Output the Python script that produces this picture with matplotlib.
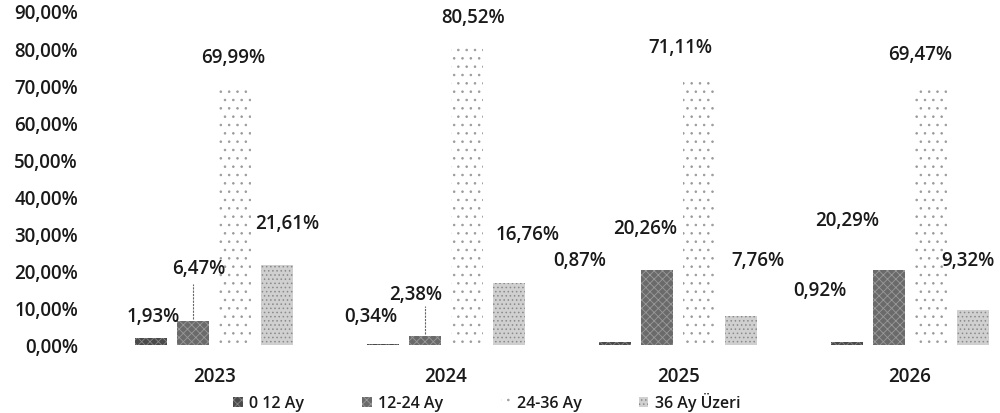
import matplotlib
matplotlib.use("Agg")
import matplotlib.pyplot as plt
import numpy as np

years = ["2023", "2024", "2025", "2026"]
series_names = ["0 12 Ay", "12-24 Ay", "24-36 Ay", "36 Ay Üzeri"]
s1 = [1.93, 0.34, 0.87, 0.92]
s2 = [6.47, 2.38, 20.26, 20.29]
s3 = [69.99, 80.52, 71.11, 69.47]
s4 = [21.61, 16.76, 7.76, 9.32]
yticks = [0, 10, 20, 30, 40, 50, 60, 70, 80, 90]

# label placement (dx relative to group centre, y in axis units)
lab_dx = [[-0.261, -0.065, 0.081, 0.315],
          [-0.322, -0.129, 0.116, 0.353],
          [-0.422, -0.142, 0.009, 0.345],
          [-0.388, -0.272, 0.043, 0.250]]
lab_y = [[7.8, 20.7, 77.7, 32.8],
         [7.8, 13.7, 88.4, 29.8],
         [22.8, 31.5, 80.4, 22.8],
         [14.8, 33.6, 78.5, 22.8]]

plt.rcParams['font.family'] = ['Open Sans', 'DejaVu Sans']
plt.rcParams['font.weight'] = 'semibold'
plt.rcParams['hatch.linewidth'] = 0.6

FS = 13.5
fig = plt.figure(figsize=(10, 4.14), dpi=100)
ax = fig.add_axes([0.098, 1 - 346/414, 0.928, (346 - 12)/414])

x = np.arange(len(years))
w = 0.138
off = 0.181
data = [s1, s2, s3, s4]
styles = [
    dict(color="#4a4a4a", hatch="xxxx", edgecolor="#888888"),
    dict(color="#6a6a6a", hatch="xxxx", edgecolor="#9a9a9a"),
    dict(color="#ffffff", hatch="..", edgecolor="#9a9a9a"),
    dict(color="#d0d0d0", hatch="....", edgecolor="#8a8a8a"),
]
handles = []
for i, (vals, st) in enumerate(zip(data, styles)):
    b = ax.bar(x + (i - 1.5) * off, vals, w, label=series_names[i],
               color=st["color"], hatch=st["hatch"], edgecolor=st["edgecolor"],
               linewidth=0)
    handles.append(b)

labels_fmt = lambda v: f"{v:.2f}%".replace(".", ",")
for g in range(len(years)):
    for i in range(4):
        ax.text(x[g] + lab_dx[g][i], lab_y[g][i], labels_fmt(data[i][g]),
                ha="center", va="center", fontsize=FS, color="#1a1a1a")

# leader lines
ax.plot([x[0] - 0.5 * off, x[0] - 0.5 * off], [s2[0] + 0.5, 16.5], color="#666666", lw=0.8, ls=(0, (2, 1)))
ax.plot([x[1] - 0.5 * off, x[1] - 0.5 * off], [s2[1] + 0.5, 10.5], color="#666666", lw=0.8, ls=(0, (2, 1)))

ax.set_ylim(0, 90)
ax.set_xlim(-0.5, 3.5)
ax.set_yticks(yticks)
ax.set_yticklabels([f"{t:.2f}%".replace(".", ",") for t in yticks])
ax.set_xticks(x)
ax.set_xticklabels(years)
ax.tick_params(axis="both", length=0, labelsize=FS, colors="#1a1a1a")
ax.tick_params(axis="x", pad=15)
ax.tick_params(axis="y", pad=14.4)
for sp in ax.spines.values():
    sp.set_visible(False)

fig.legend(handles=handles, labels=series_names, loc="center", bbox_to_anchor=(0.487, 1 - 403/414),
           ncol=4, frameon=False, fontsize=11.5, handlelength=0.6, handleheight=0.6,
           handletextpad=0.4, columnspacing=3.6, labelcolor="#1a1a1a")

fig.savefig("out.png", dpi=100, facecolor="white")
